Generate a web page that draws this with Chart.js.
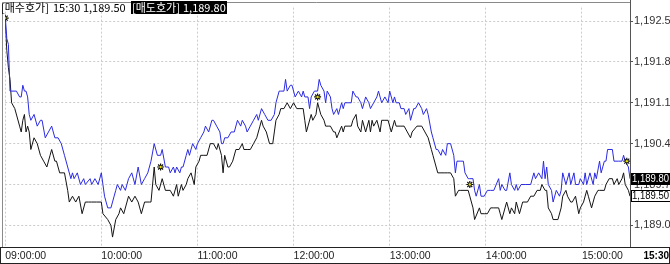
<!DOCTYPE html>
<html>
<head>
<meta charset="utf-8">
<script src="https://cdn.jsdelivr.net/npm/chart.js@4.4.1/dist/chart.umd.min.js"></script>
<style>
  html, body { margin: 0; padding: 0; background: #fff; }
  #wrap { width: 670px; height: 264px; position: relative; }
</style>
</head>
<body>
<div id="wrap"><canvas id="quoteChart"></canvas></div>
<script>
// Data: minutes after 09:00 and quoted prices
const askTimes = [
  0, 1, 2, 3, 4, 7, 9, 10, 11, 12,
  13, 14, 15, 16, 18, 20, 22, 23, 25, 27,
  29, 31, 33, 35, 37, 39, 41, 42, 43, 45,
  47, 49, 50, 53, 54, 56, 58, 60, 61, 62,
  64, 66, 68, 69, 70, 72, 73, 75, 77, 79,
  81, 83, 85, 87, 89, 91, 93, 95, 97, 98,
  100, 102, 103, 105, 106, 107, 109, 110, 111, 113,
  114, 115, 117, 119, 120, 122, 124, 125, 127, 129,
  130, 132, 134, 135, 136, 137, 139, 141, 143, 145,
  147, 148, 150, 151, 153, 155, 157, 158, 160, 162,
  164, 166, 168, 169, 171, 172, 174, 175, 176, 178,
  179, 181, 183, 185, 186, 187, 189, 190, 191, 193,
  195, 196, 197, 199, 200, 201, 203, 204, 205, 207,
  208, 210, 211, 212, 214, 216, 217, 219, 220, 222,
  223, 225, 227, 228, 230, 232, 233, 235, 237, 239,
  240, 242, 243, 244, 246, 247, 249, 250, 252, 253,
  255, 256, 258, 260, 261, 263, 264, 266, 267, 269,
  270, 272, 273, 275, 276, 278, 280, 281, 282, 284,
  286, 287, 289, 290, 292, 293, 294, 296, 297, 299,
  301, 303, 305, 308, 309, 310, 312, 313, 315, 316,
  318, 319, 320, 322, 325, 328, 330, 331, 333, 335,
  336, 337, 338, 339, 341, 342, 344, 346, 347, 348,
  350, 352, 353, 355, 356, 358, 359, 361, 362, 363,
  365, 367, 368, 369, 371, 372, 373, 374, 375, 376,
  379, 380, 383, 385, 386, 387, 389, 390
];
const askPrices = [
  1192.6, 1192.2, 1192.1, 1191.3, 1191.3, 1191.3, 1191.2, 1191.2, 1191.4, 1191.3,
  1191.3, 1191.2, 1190.9, 1190.8, 1190.9, 1190.7, 1190.8, 1190.8, 1190.5, 1190.6,
  1190.7, 1190.5, 1190.5, 1190.4, 1190.2, 1190.0, 1189.8, 1189.9, 1189.8, 1189.9,
  1189.7, 1189.8, 1189.7, 1189.8, 1189.7, 1189.8, 1189.7, 1189.9, 1189.7, 1189.5,
  1189.3, 1189.3, 1189.5, 1189.6, 1189.7, 1189.6, 1189.7, 1189.6, 1189.8, 1189.9,
  1189.7, 1190.0, 1189.7, 1189.8, 1189.9, 1190.1, 1190.4, 1190.2, 1190.2, 1190.3,
  1190.0, 1190.0, 1189.9, 1190.0, 1189.9, 1190.0, 1189.9, 1190.0, 1190.0, 1190.2,
  1190.3, 1190.2, 1190.4, 1190.3, 1190.4, 1190.5, 1190.6, 1190.7, 1190.6, 1190.8,
  1190.8, 1190.7, 1190.6, 1190.4, 1190.4, 1190.5, 1190.5, 1190.6, 1190.6, 1190.8,
  1190.7, 1190.8, 1190.7, 1190.6, 1190.7, 1190.8, 1190.9, 1190.8, 1191.0, 1190.9,
  1190.8, 1190.8, 1190.9, 1191.1, 1191.3, 1191.3, 1191.3, 1191.5, 1191.3, 1191.4,
  1191.4, 1191.2, 1191.3, 1191.2, 1191.3, 1191.2, 1191.2, 1191.0, 1191.2, 1191.3,
  1191.3, 1191.5, 1191.4, 1191.3, 1191.1, 1191.3, 1191.2, 1191.0, 1190.9, 1191.0,
  1190.9, 1191.1, 1191.0, 1191.1, 1191.1, 1191.1, 1191.3, 1191.2, 1191.2, 1191.1,
  1191.0, 1191.2, 1191.1, 1191.0, 1191.1, 1191.2, 1191.3, 1191.1, 1191.2, 1191.1,
  1191.3, 1191.1, 1191.2, 1191.1, 1191.1, 1191.0, 1191.0, 1190.9, 1191.0, 1190.8,
  1191.0, 1191.0, 1191.1, 1191.0, 1190.9, 1191.0, 1190.9, 1190.6, 1190.5, 1190.3,
  1190.3, 1190.2, 1190.3, 1190.2, 1190.4, 1190.4, 1190.2, 1189.9, 1190.1, 1190.1,
  1190.1, 1189.9, 1189.8, 1189.8, 1189.8, 1189.6, 1189.5, 1189.7, 1189.5, 1189.5,
  1189.6, 1189.6, 1189.6, 1189.8, 1189.6, 1189.7, 1189.6, 1189.6, 1189.9, 1189.7,
  1189.6, 1189.7, 1189.6, 1189.7, 1189.7, 1189.7, 1189.9, 1189.8, 1189.9, 1189.8,
  1190.1, 1189.8, 1190.0, 1189.7, 1189.6, 1189.4, 1189.6, 1189.5, 1189.6, 1189.9,
  1189.7, 1189.9, 1189.7, 1189.9, 1189.7, 1189.7, 1189.8, 1189.7, 1189.9, 1189.7,
  1189.9, 1189.7, 1189.9, 1189.8, 1190.1, 1189.9, 1190.0, 1190.1, 1190.1, 1190.3,
  1190.3, 1190.1, 1190.1, 1190.1, 1190.2, 1190.1, 1190.0, 1189.8
];

const bidTimes = [
  0, 1, 2, 3, 4, 6, 9, 10, 11, 12,
  13, 14, 15, 16, 18, 20, 22, 24, 26, 28,
  29, 31, 32, 34, 37, 39, 40, 42, 44, 46,
  48, 50, 52, 54, 57, 60, 61, 64, 66, 67,
  69, 71, 72, 74, 76, 77, 79, 81, 83, 85,
  87, 90, 91, 93, 94, 96, 98, 100, 103, 105,
  107, 108, 110, 111, 113, 114, 116, 118, 119, 121,
  122, 124, 126, 128, 130, 132, 133, 135, 136, 137,
  139, 140, 142, 144, 146, 148, 149, 151, 153, 155,
  157, 159, 160, 161, 163, 165, 167, 168, 169, 171,
  172, 174, 176, 178, 180, 182, 184, 186, 187, 188,
  189, 191, 192, 194, 195, 197, 199, 200, 202, 203,
  205, 206, 207, 210, 211, 212, 214, 216, 217, 219,
  220, 222, 223, 225, 227, 228, 229, 230, 232, 234,
  235, 237, 239, 241, 243, 244, 247, 249, 251, 253,
  254, 257, 260, 262, 264, 266, 267, 269, 270, 272,
  274, 276, 278, 280, 281, 283, 284, 287, 289, 290,
  292, 293, 296, 297, 299, 301, 303, 305, 308, 309,
  310, 312, 313, 315, 316, 318, 319, 321, 323, 326,
  328, 330, 332, 334, 335, 337, 338, 339, 341, 342,
  345, 347, 348, 350, 351, 353, 354, 356, 358, 359,
  361, 363, 364, 366, 367, 368, 370, 371, 374, 375,
  377, 379, 380, 382, 383, 385, 386, 387, 389, 390
];
const bidPrices = [
  1192.5, 1192.0, 1191.7, 1191.5, 1191.1, 1191.0, 1190.7, 1190.6, 1190.8, 1190.9,
  1190.6, 1190.7, 1190.6, 1190.3, 1190.5, 1190.4, 1190.2, 1190.1, 1190.0, 1190.2,
  1190.3, 1190.1, 1190.1, 1189.9, 1189.9, 1189.6, 1189.4, 1189.5, 1189.4, 1189.5,
  1189.2, 1189.4, 1189.4, 1189.4, 1189.4, 1189.4, 1189.2, 1189.1, 1189.0, 1188.8,
  1189.1, 1189.2, 1189.3, 1189.2, 1189.4, 1189.5, 1189.4, 1189.5, 1189.4, 1189.2,
  1189.4, 1189.4, 1189.4, 1190.0, 1189.7, 1189.6, 1189.8, 1189.6, 1189.6, 1189.5,
  1189.7, 1189.5, 1189.7, 1189.6, 1189.7, 1189.8, 1189.9, 1189.7, 1190.0, 1190.1,
  1190.2, 1190.2, 1190.2, 1190.4, 1190.4, 1190.3, 1190.4, 1190.2, 1189.9, 1190.2,
  1190.0, 1190.0, 1190.1, 1190.3, 1190.3, 1190.4, 1190.3, 1190.3, 1190.3, 1190.4,
  1190.5, 1190.7, 1190.8, 1190.7, 1190.6, 1190.4, 1190.4, 1190.6, 1190.8, 1190.9,
  1191.0, 1191.0, 1191.1, 1191.0, 1191.1, 1191.0, 1191.0, 1191.0, 1190.8, 1190.6,
  1190.7, 1190.9, 1190.8, 1190.9, 1191.1, 1190.9, 1190.8, 1190.7, 1190.7, 1190.7,
  1190.6, 1190.6, 1190.5, 1190.7, 1190.6, 1190.7, 1190.7, 1190.7, 1190.8, 1190.9,
  1190.7, 1190.6, 1190.8, 1190.6, 1190.8, 1190.6, 1190.8, 1190.7, 1190.8, 1190.6,
  1190.8, 1190.8, 1190.8, 1190.6, 1190.8, 1190.7, 1190.7, 1190.7, 1190.6, 1190.5,
  1190.6, 1190.7, 1190.7, 1190.6, 1190.5, 1190.3, 1190.2, 1190.0, 1189.9, 1189.9,
  1189.9, 1189.9, 1189.9, 1189.8, 1189.5, 1189.6, 1189.6, 1189.6, 1189.6, 1189.5,
  1189.3, 1189.1, 1189.3, 1189.2, 1189.2, 1189.2, 1189.3, 1189.3, 1189.3, 1189.2,
  1189.1, 1189.3, 1189.4, 1189.2, 1189.3, 1189.2, 1189.4, 1189.2, 1189.4, 1189.4,
  1189.5, 1189.5, 1189.6, 1189.6, 1189.7, 1189.6, 1189.6, 1189.3, 1189.2, 1189.1,
  1189.1, 1189.3, 1189.5, 1189.6, 1189.5, 1189.4, 1189.4, 1189.5, 1189.2, 1189.3,
  1189.4, 1189.6, 1189.5, 1189.3, 1189.4, 1189.5, 1189.6, 1189.6, 1189.6, 1189.7,
  1189.8, 1189.8, 1189.7, 1189.8, 1189.7, 1189.8, 1189.9, 1189.7, 1189.6, 1189.5
];

// star marks on the chart
const markTimes = [0, 97, 195, 290, 388];
const markPrices = [1192.55, 1190.0, 1191.2, 1189.7, 1190.1];

// axis ticks
const hourTicks = [0, 60, 120, 180, 240, 300, 360];
const hourLabels = ['09:00:00', '10:00:00', '11:00:00', '12:00:00', '13:00:00', '14:00:00', '15:00:00'];
const closeLabel = '15:30';
const priceTicks = [1189.0, 1189.7, 1190.4, 1191.1, 1191.8, 1192.5];

if (askTimes.length !== askPrices.length || bidTimes.length !== bidPrices.length) {
  console.error('length mismatch', askTimes.length, askPrices.length, bidTimes.length, bidPrices.length);
}

const toPoints = (times, prices) => times.map((t, i) => ({ x: t, y: prices[i] }));
const fmt = (v, d) => v.toLocaleString('en-US', { minimumFractionDigits: d, maximumFractionDigits: d });

const lastAsk = askPrices[askPrices.length - 1];
const lastBid = bidPrices[bidPrices.length - 1];

const ASK_COLOR = '#2b2be0';
const BID_COLOR = '#141414';
const GRID_COLOR = '#cccccc';
const LABEL_FONT = '"Liberation Sans", Arial, sans-serif';
const KR_FONT = '"Noto Sans CJK KR", "Noto Sans", sans-serif';

// frame, header and last value boxes
const quotePanel = {
  id: 'quotePanel',
  afterDraw(chart) {
    const ctx = chart.ctx;
    const area = chart.chartArea;
    const yScale = chart.scales.y;
    ctx.save();

    // plot frame
    ctx.lineWidth = 1;
    ctx.strokeStyle = '#8a8a8a';
    ctx.beginPath();
    ctx.moveTo(2.5, area.bottom + 1);
    ctx.lineTo(2.5, 2.5);
    ctx.lineTo(area.right, 2.5);
    ctx.stroke();
    ctx.strokeStyle = '#555';
    ctx.beginPath();
    ctx.moveTo(area.right + 0.5, 0);
    ctx.lineTo(area.right + 0.5, area.bottom + 1);
    ctx.stroke();

    // time axis box
    ctx.strokeStyle = '#222';
    ctx.strokeRect(0.5, area.bottom + 0.5, chart.width - 1, chart.height - area.bottom - 1);

    // closing time label
    ctx.fillStyle = '#000';
    ctx.font = 'bold 10px ' + LABEL_FONT;
    ctx.textAlign = 'right';
    ctx.textBaseline = 'middle';
    ctx.fillText(closeLabel, chart.width - 1, area.bottom + 9);

    // last ask box (black)
    const yAsk = Math.round(yScale.getPixelForValue(lastAsk));
    ctx.fillStyle = '#000';
    ctx.fillRect(area.right + 1, yAsk - 6, chart.width - area.right - 1, 12);
    ctx.fillStyle = '#fff';
    ctx.font = '10px ' + LABEL_FONT;
    ctx.textAlign = 'left';
    ctx.fillText(fmt(lastAsk, 2), area.right + 2, yAsk, 37);

    // last bid box (white, framed)
    const yBid = Math.round(yScale.getPixelForValue(lastBid));
    ctx.fillStyle = '#fff';
    ctx.fillRect(area.right + 1, yBid - 6, chart.width - area.right - 1, 12);
    ctx.strokeStyle = '#000';
    ctx.strokeRect(area.right + 1.5, yBid - 5.5, chart.width - area.right, 11);
    ctx.fillStyle = '#000';
    ctx.fillText(fmt(lastBid, 2), area.right + 2, yBid, 37);

    // header
    ctx.font = '11px ' + KR_FONT;
    ctx.textBaseline = 'middle';
    ctx.fillStyle = '#000';
    ctx.fillText('[매수호가]', 1, 8, 49);
    ctx.fillText(closeLabel + ' ' + fmt(lastBid, 2), 53, 8, 74);
    ctx.fillStyle = '#000';
    ctx.fillRect(131, 1, 96, 13);
    ctx.fillStyle = '#fff';
    ctx.fillText('[매도호가]', 132, 8, 48);
    ctx.fillText(fmt(lastAsk, 2), 183, 8, 43);

    ctx.restore();
  }
};

new Chart(document.querySelector('#quoteChart'), {
  type: 'line',
  data: {
    datasets: [
      {
        label: 'markDot',
        data: toPoints(markTimes, markPrices),
        showLine: false,
        pointStyle: 'circle',
        pointRadius: 1.2,
        pointBorderWidth: 0,
        pointBackgroundColor: '#e8e000',
        order: 0
      },
      {
        label: 'mark',
        data: toPoints(markTimes, markPrices),
        showLine: false,
        pointStyle: 'star',
        pointRadius: 3.5,
        pointBorderWidth: 1.2,
        pointBorderColor: '#111',
        pointBackgroundColor: '#111',
        order: 1
      },
      {
        label: '매도호가',
        data: toPoints(askTimes, askPrices),
        borderColor: ASK_COLOR,
        borderWidth: 1,
        pointRadius: 0,
        tension: 0,
        order: 2
      },
      {
        label: '매수호가',
        data: toPoints(bidTimes, bidPrices),
        borderColor: BID_COLOR,
        borderWidth: 1,
        pointRadius: 0,
        tension: 0,
        order: 3
      }
    ]
  },
  options: {
    responsive: true,
    maintainAspectRatio: false,
    devicePixelRatio: 1,
    animation: false,
    layout: { padding: { left: 3, top: 2, right: 0, bottom: 0 } },
    plugins: {
      legend: { display: false },
      tooltip: { enabled: false }
    },
    scales: {
      x: {
        type: 'linear',
        min: 0,
        max: 390,
        afterFit: (scale) => { scale.height = 17; },
        afterBuildTicks: (scale) => { scale.ticks = hourTicks.map(v => ({ value: v })); },
        ticks: {
          align: 'start',
          autoSkip: false,
          maxRotation: 0,
          padding: 3,
          color: '#222',
          font: { family: LABEL_FONT, size: 10.5 },
          callback: (value, index) => hourLabels[index]
        },
        grid: { color: GRID_COLOR, drawTicks: false },
        border: { display: false, dash: [2, 2] }
      },
      y: {
        position: 'right',
        min: 1188.63,
        max: 1192.73,
        afterFit: (scale) => { scale.width = 40; },
        afterBuildTicks: (scale) => { scale.ticks = priceTicks.map(v => ({ value: v })); },
        ticks: {
          padding: 1,
          color: '#333',
          font: { family: LABEL_FONT, size: 11 },
          callback: (value) => fmt(value, 1)
        },
        grid: { color: GRID_COLOR, tickLength: 3, tickColor: '#555', tickBorderDash: [] },
        border: { display: false, dash: [2, 2] }
      }
    }
  },
  plugins: [quotePanel]
});
</script>
</body>
</html>
